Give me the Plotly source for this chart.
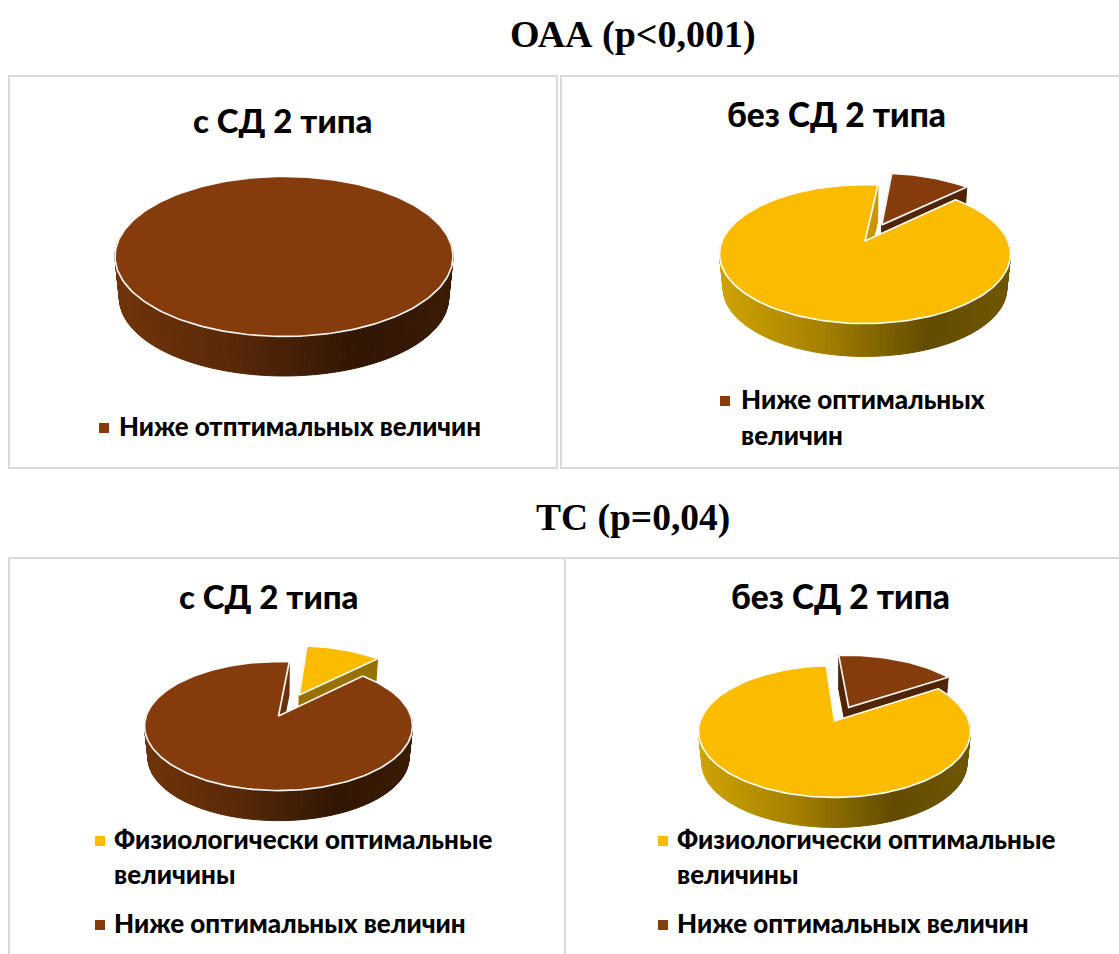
import math
import plotly.graph_objects as go

# Shares of each group, percent
oaa_with_dm = [100]
oaa_without_dm = [89, 11]
tc_with_dm = [89, 11]
tc_without_dm = [83, 17]

LABEL_LOW_TYPO = "Ниже отптимальных величин"
LABEL_LOW = "Ниже оптимальных величин"
GOLD = (251, 188, 0)
BROWN = (132, 60, 12)
GOLD_RAMP = [(0, (206, 163, 0)), (0.35, (165, 128, 0)), (0.72, (98, 75, 0)), (1, (112, 86, 0))]
BROWN_RAMP = [(0, (112, 52, 10)), (0.35, (88, 40, 8)), (0.72, (48, 22, 3)), (1, (58, 27, 6))]


def rgb(c):
    return "rgb(%d,%d,%d)" % tuple(round(x) for x in c)


def ramp_colour(ramp, t):
    t = min(max(t, 0), 1)
    for (t0, c0), (t1, c1) in zip(ramp, ramp[1:]):
        if t <= t1:
            f = (t - t0) / (t1 - t0)
            return tuple(a + (b - a) * f for a, b in zip(c0, c1))
    return ramp[-1][1]


class Camera:
    """Perspective view of a flat disc, scaled to the drawn ellipse."""

    def __init__(self, cx, cy, rx, ry, k, drop):
        self.cx, self.cy, self.rx, self.k, self.drop = cx, cy, rx, k, drop
        self.a = ry * (1 - k * k)
        self.b = rx * math.sqrt(1 - k * k)
        self.shrink = 0.974

    def top(self, u, v):
        w = 1 + self.k * v
        return self.cx + self.b * u / w, self.cy - self.a * v / w

    def bottom(self, u, v):
        x, y = self.top(u, v)
        return (self.cx + self.shrink * (x - self.cx),
                self.cy + self.shrink * (y - self.cy) + self.drop)


fig = go.Figure()


def polygon(points, fill, line=None, width=1.0):
    xs = [p[0] for p in points] + [points[0][0]]
    ys = [p[1] for p in points] + [points[0][1]]
    fig.add_trace(go.Scatter(
        x=xs, y=ys, mode="lines", fill="toself", fillcolor=rgb(fill),
        line=dict(color=line or rgb(fill), width=width),
        hoverinfo="skip", showlegend=False))


def draw_slice(cam, start, sweep, offset, colour, ramp, wall_shade):
    """One slice: inner walls, outer wall, then the top face (angles clockwise from north)."""
    mid = math.radians(start + sweep / 2)
    ou, ov = offset * math.sin(mid), offset * math.cos(mid)
    steps = max(2, int(sweep / 1.5))
    angles = [math.radians(start + sweep * i / steps) for i in range(steps + 1)]
    rim = [(ou + math.sin(a), ov + math.cos(a)) for a in angles]
    hub = (ou, ov)
    whole = sweep >= 360

    if not whole:
        wall = tuple(c * wall_shade for c in colour)
        for edge in (rim[0], rim[-1]):
            polygon([cam.top(*hub), cam.top(*edge), cam.bottom(*edge), cam.bottom(*hub)], wall)

    # Outer wall as narrow strips so the horizontal shading stays smooth
    for p, q in zip(rim, rim[1:]):
        if (p[1] + q[1]) / 2 - ov > 0.15:
            continue
        x_mid = (cam.top(*p)[0] + cam.top(*q)[0]) / 2
        t = (x_mid - cam.cx + cam.rx) / (2 * cam.rx)
        polygon([cam.top(*p), cam.top(*q), cam.bottom(*q), cam.bottom(*p)], ramp_colour(ramp, t))

    outline = [cam.top(*p) for p in rim]
    if not whole:
        outline.append(cam.top(*hub))
    polygon(outline, colour, line="rgba(255,255,255,0.95)", width=1.7)


def draw_pie(cam, shares, colours, ramps, start, explode):
    total = sum(shares)
    if len(shares) == 1:
        draw_slice(cam, 0, 360, 0, colours[0], ramps[0], 0.8)
        return
    # The small slice goes first so that the large one overlaps its wall
    small_sweep = 360 * shares[1] / total
    draw_slice(cam, start, small_sweep, explode, colours[1], ramps[1], 0.6)
    draw_slice(cam, start + small_sweep, 360 - small_sweep, 0, colours[0], ramps[0], 0.8)


draw_pie(Camera(284, 242, 169, 80, 0.18, 42), oaa_with_dm, [BROWN], [BROWN_RAMP], 0, 0)
draw_pie(Camera(865, 241, 145.5, 69.5, 0.188, 35), oaa_without_dm,
         [GOLD, BROWN], [GOLD_RAMP, BROWN_RAMP], 6.2, 0.28)
draw_pie(Camera(278.5, 716, 134, 64.5, 0.156, 32), tc_with_dm,
         [BROWN, GOLD], [BROWN_RAMP, GOLD_RAMP], 5.4, 0.39)
draw_pie(Camera(834.5, 721, 136, 66, 0.158, 32), tc_without_dm,
         [GOLD, BROWN], [GOLD_RAMP, BROWN_RAMP], -4.1, 0.245)

PANELS = [(9, 76, 557, 468), (561, 76, 1125, 468), (9, 558, 565, 960), (565, 558, 1125, 960)]
shapes = [dict(type="rect", xref="x", yref="y", x0=a, y0=b, x1=c, y1=d,
               line=dict(color="#D9D9D9", width=2), layer="below") for a, b, c, d in PANELS]

SERIF = "Liberation Serif"
SANS = "Lato"


def text(x, y, s, size, family, anchor="center", weight=700):
    return dict(x=x, y=y, xref="x", yref="y", text=s, showarrow=False, xanchor=anchor,
                yanchor="middle",
                font=dict(family=family, size=size, color="#000000", weight=weight))


annotations = [
    text(633, 34, "ОАА (р&lt;0,001)", 38, SERIF),
    text(633, 518, "ТС (р=0,04)", 37.5, SERIF),
    text(283, 120, "с СД 2 типа", 33, SANS, weight=900),
    text(836, 114, "без СД 2 типа", 33.5, SANS, weight=900),
    text(269, 596, "с СД 2 типа", 33, SANS, weight=900),
    text(840, 596, "без СД 2 типа", 33.5, SANS, weight=900),
    text(117, 426, LABEL_LOW_TYPO, 25.8, SANS, "left", 900),
    text(739, 399, "Ниже оптимальных", 26, SANS, "left", 900),
    text(739, 435, "величин", 26, SANS, "left", 900),
    text(112, 839, "Физиологически оптимальные", 26, SANS, "left", 900),
    text(112, 874, "величины", 26, SANS, "left", 900),
    text(112, 923, LABEL_LOW, 26, SANS, "left", 900),
    text(675, 839, "Физиологически оптимальные", 26, SANS, "left", 900),
    text(675, 874, "величины", 26, SANS, "left", 900),
    text(675, 923, LABEL_LOW, 26, SANS, "left", 900),
]

# Legend keys
for x, y, colour in [(104, 428, BROWN), (725, 401, BROWN), (100, 841, GOLD),
                     (100, 925, BROWN), (663, 841, GOLD), (663, 925, BROWN)]:
    fig.add_trace(go.Scatter(x=[x], y=[y], mode="markers", hoverinfo="skip", showlegend=False,
                             marker=dict(symbol="square", size=10, color=rgb(colour))))

fig.update_layout(
    width=1119, height=954, autosize=False, margin=dict(l=0, r=0, t=0, b=0),
    paper_bgcolor="white", plot_bgcolor="white", showlegend=False,
    xaxis=dict(range=[0, 1119], visible=False, fixedrange=True),
    yaxis=dict(range=[954, 0], visible=False, fixedrange=True),
    shapes=shapes, annotations=annotations,
)
fig.write_html("out.html", config=dict(displayModeBar=False))
